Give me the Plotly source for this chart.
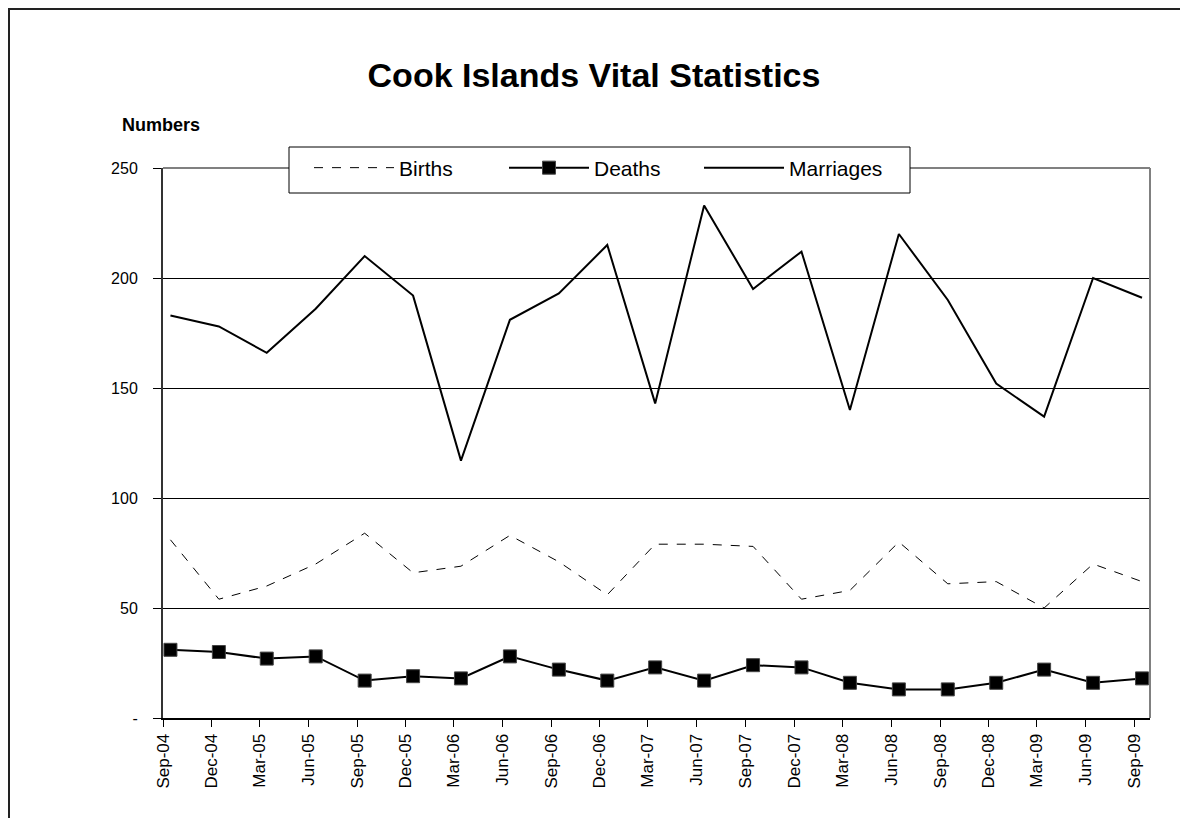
import plotly.graph_objects as go

# quarter reference dates (mid-month positions within date axis)
quarters = ["2004-09-15", "2004-12-15", "2005-03-15", "2005-06-15", "2005-09-15",
            "2005-12-15", "2006-03-15", "2006-06-15", "2006-09-15", "2006-12-15",
            "2007-03-15", "2007-06-15", "2007-09-15", "2007-12-15", "2008-03-15",
            "2008-06-15", "2008-09-15", "2008-12-15", "2009-03-15", "2009-06-15",
            "2009-09-15"]

births = [81, 54, 60, 70, 84, 66, 69, 83, 71, 56, 79, 79, 78, 54, 58, 80, 61, 62, 50, 70, 62]
deaths = [31, 30, 27, 28, 17, 19, 18, 28, 22, 17, 23, 17, 24, 23, 16, 13, 13, 16, 22, 16, 18]
marriages = [183, 178, 166, 186, 210, 192, 117, 181, 193, 215, 143, 233, 195, 212, 140,
             220, 190, 152, 137, 200, 191]

y_tickvals = [0, 50, 100, 150, 200, 250]
y_ticktext = ["-", "50", "100", "150", "200", "250"]

FONT = "Liberation Sans Narrow, Arial Narrow, Liberation Sans, Arial, sans-serif"

W, H = 1188, 818
L, T = 155, 160
PW, PH = 987, 550


def px(x):
    return (x - L) / PW


def py(y):
    return (T + PH - y) / PH


fig = go.Figure()
fig.add_trace(go.Scatter(x=quarters, y=births, name="Births", mode="lines",
                         line=dict(color="black", width=1, dash="dash")))
fig.add_trace(go.Scatter(x=quarters, y=deaths, name="Deaths", mode="lines+markers",
                         line=dict(color="black", width=2),
                         marker=dict(symbol="square", size=13, color="black",
                                     line=dict(color="#444", width=1))))
fig.add_trace(go.Scatter(x=quarters, y=marriages, name="Marriages", mode="lines",
                         line=dict(color="black", width=2)))

fig.update_layout(
    width=W, height=H,
    margin=dict(l=L, r=W - L - PW, t=T, b=H - T - PH),
    paper_bgcolor="white", plot_bgcolor="white",
    font=dict(family=FONT, color="black", size=16),
    title=dict(text="<b>Cook Islands Vital Statistics</b>", x=(586) / W, xanchor="center",
               y=1 - 67 / H, yanchor="middle",
               font=dict(family=FONT, size=34, color="black")),
    showlegend=True,
    legend=dict(orientation="h", x=px(301), y=1.0, xanchor="left", yanchor="middle",
                bgcolor="rgba(0,0,0,0)", borderwidth=0,
                font=dict(family=FONT, size=21, color="black"),
                entrywidth=100, itemwidth=80),
    xaxis=dict(type="date", range=["2004-09-01", "2009-09-30"],
               tick0="2004-09-01", dtick="M3", tickformat="%b-%y",
               tickangle=-90, ticks="outside", ticklen=7, tickcolor="black",
               showgrid=False, showline=True, linecolor="black", linewidth=2,
               tickfont=dict(family=FONT, size=17, color="black"), zeroline=False),
    yaxis=dict(range=[0, 250], tickvals=y_tickvals, ticktext=y_ticktext,
               ticks="outside", ticklen=8, tickcolor="black",
               ticklabelstandoff=12,
               showgrid=True, gridcolor="black", gridwidth=1,
               showline=True, linecolor="#333", linewidth=2, zeroline=False,
               tickfont=dict(family=FONT, size=16, color="black")),
    annotations=[dict(text="<b>Numbers</b>", xref="paper", yref="paper",
                      x=px(112), y=py(117), xanchor="left",
                      yanchor="middle", showarrow=False,
                      font=dict(family=FONT, size=18, color="black"))],
    shapes=[
        dict(type="line", xref="paper", yref="paper", x0=0, x1=1, y0=1, y1=1,
             line=dict(color="#808080", width=2), layer="above"),
        dict(type="line", xref="paper", yref="paper", x0=1, x1=1, y0=0, y1=1,
             line=dict(color="#808080", width=2), layer="above"),
        dict(type="rect", xref="paper", yref="paper", x0=px(281), x1=px(902),
             y0=py(185), y1=py(139), line=dict(color="black", width=1),
             fillcolor="white", layer="above"),
        dict(type="rect", xref="paper", yref="paper", x0=px(1), x1=1.2,
             y0=-0.3, y1=py(1), line=dict(color="#222", width=2),
             fillcolor="rgba(0,0,0,0)", layer="above"),
    ],
)

fig.write_html("out.html")
